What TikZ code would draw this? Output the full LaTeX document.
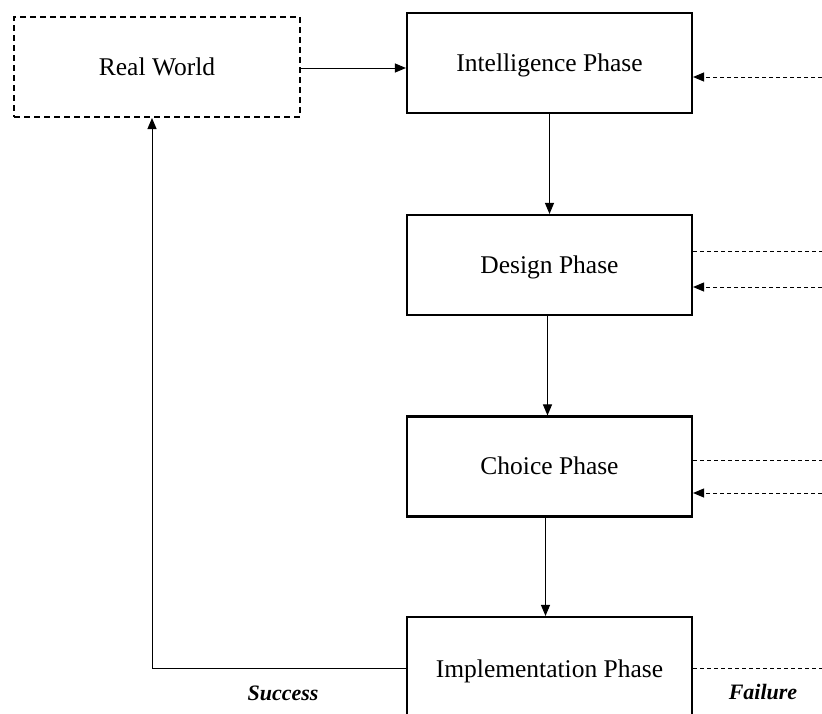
\documentclass[tikz,border=0pt]{standalone}
\usepackage{fontspec}
\setmainfont{Liberation Serif}
\usetikzlibrary{arrows.meta,calc}
\begin{document}
\begin{tikzpicture}[x=1pt,y=-1pt,
  phasebox/.style={draw, line width=2.1pt, minimum width=285pt, minimum height=100pt, inner sep=0pt, text height=20pt, text depth=3.2pt, font=\fontsize{25.5}{30}\selectfont},
  worldbox/.style={draw, line width=2pt, dash pattern=on 6pt off 4pt, minimum width=286pt, minimum height=100pt, inner sep=0pt, text height=20pt, text depth=3.2pt, font=\fontsize{25.5}{30}\selectfont},
  conn/.style={line width=1pt, -{Triangle[length=11pt,width=9pt]}},
  dline/.style={line width=1pt, dash pattern=on 4pt off 3pt},
  darrow/.style={dline, -{Triangle[length=11pt,width=9pt]}},
  lab/.style={font=\fontsize{22}{26}\selectfont\bfseries\itshape}
]
\useasboundingbox (0,0) rectangle (822,713);
\clip (0,0) rectangle (822,713);
\fill[white] (0,0) rectangle (822,713);

\node[worldbox] (rw) at (157,67) {Real World};
\node[phasebox] (int) at (549.5,63) {Intelligence Phase};
\node[phasebox] (des) at (549.5,265) {Design Phase};
\node[phasebox] (cho) at (549.5,466.5) {Choice Phase};
\node[phasebox, text height=24pt, text depth=3pt] (imp) at (549.5,667) {Implementation Phase};

% main flow
\draw[conn] (rw.east |- 0,68) -- (int.west |- 0,68);
\draw[conn] (int.south) -- (des.north);
\draw[conn] ([xshift=-2pt]des.south) -- ([xshift=-2pt]cho.north);
\draw[conn] ([xshift=-4pt]cho.south) -- ([xshift=-4pt]imp.north);

% success loop
\coordinate (corner) at (152,668);
\draw[conn] (imp.west |- corner) -- (corner) -- (rw.south -| corner);

% right side dashed lines
\coordinate (r1) at (822,77);
\coordinate (r2) at (822,251);
\coordinate (r3) at (822,287);
\coordinate (r4) at (822,460);
\coordinate (r5) at (822,493);
\coordinate (r6) at (822,668);
\draw[darrow] (r1) -- (int.east |- r1);
\draw[dline] (des.east |- r2) -- (r2);
\draw[darrow] (r3) -- (des.east |- r3);
\draw[dline] (cho.east |- r4) -- (r4);
\draw[darrow] (r5) -- (cho.east |- r5);
\draw[dline] (imp.east |- r6) -- (r6);

% labels
\node[lab] (succ) at (283,693) {Success};
\node[lab] (fail) at (763,692) {Failure};
\end{tikzpicture}
\end{document}
